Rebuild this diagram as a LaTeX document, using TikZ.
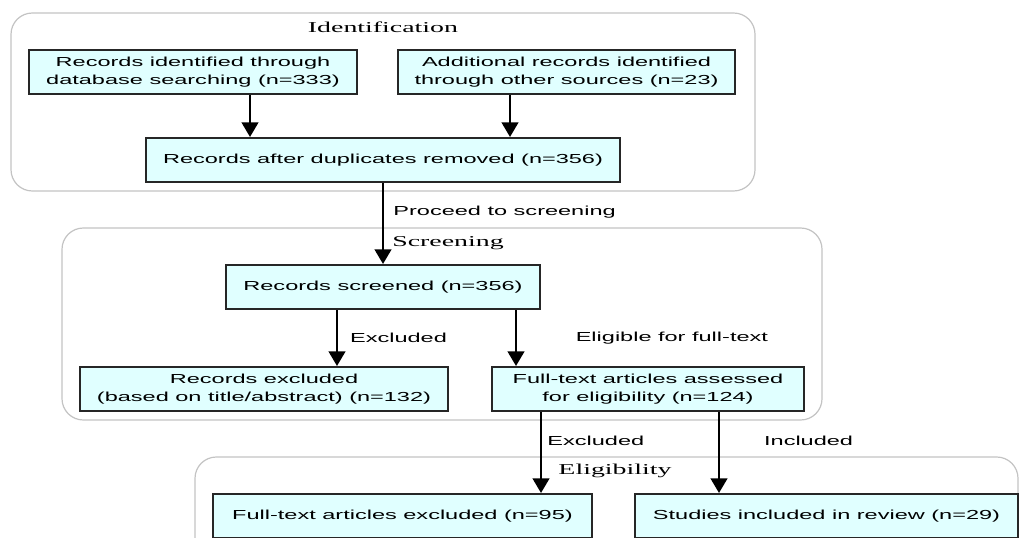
\documentclass[tikz,border=0pt]{standalone}
\usepackage{fontspec}
\newfontfamily\boxfont{Liberation Sans}[FakeStretch=1.8]
\newfontfamily\titlefont{Liberation Serif}[FakeStretch=1.85]
\usepackage{tikz}
\usetikzlibrary{arrows.meta}
\definecolor{boxcyan}{RGB}{224,255,255}
\definecolor{panelgray}{RGB}{195,195,195}
\tikzset{>={Triangle[length=11pt,width=12.5pt]}}
\tikzset{%
    box/.style={draw=black!85, line width=1.5pt, fill=boxcyan, align=center,
        inner sep=0pt, minimum height=33pt, font=\boxfont\fontsize{9.8}{13.9}\selectfont},
    boxw/.style={minimum width=#1*0.75pt},
    panel/.style={draw=panelgray, line width=0.9pt, rounded corners=16pt},
    paneltitle/.style={font=\titlefont\fontsize{11.3}{13}\selectfont, inner sep=0pt},
    arr/.style={->, line width=1.7pt},
    lbl/.style={font=\boxfont\fontsize{9.8}{13.9}\selectfont, inner sep=0pt}
}
\begin{document}
\begin{tikzpicture}[x=0.75pt,y=-0.75pt]
\useasboundingbox (0,0) rectangle (1023,538);
\clip (0,0) rectangle (1023,538);

% phases
\draw[panel] (11,13) rectangle (755,191);
\draw[panel] (62,228) rectangle (822,420);
\draw[panel] (195,457) rectangle (1018,580);

\node[paneltitle] (tIdent) at (383,27) {Identification};
\node[paneltitle] (tScreen) at (448,243) {Screening};
\node[paneltitle] (tElig) at (615,471) {Eligibility};

% boxes
\node[box, boxw=328] (idA) at (193,72) {Records identified through\\database searching (n=333)};
\node[box, boxw=337] (idB) at (566.5,72) {Additional records identified\\through other sources (n=23)};
\node[box, boxw=474] (dup) at (383,160) {Records after duplicates removed (n=356)};
\node[box, boxw=314] (screen) at (383,287) {Records screened (n=356)};
\node[box, boxw=368] (exclA) at (264,389) {Records excluded\\(based on title/abstract) (n=132)};
\node[box, boxw=312] (full) at (648,389) {Full-text articles assessed\\for eligibility (n=124)};
\node[box, boxw=379] (exclB) at (402.5,516) {Full-text articles excluded (n=95)};
\node[box, boxw=383] (incl) at (826.5,516) {Studies included in review (n=29)};

% arrows
\draw[arr] (250,0 |- idA.south) -- (250,0 |- dup.north);
\draw[arr] (510,0 |- idB.south) -- (510,0 |- dup.north);
\draw[arr] (dup.south) -- (screen.north) node[lbl, pos=0.36, right=7pt] {Proceed to screening};
\draw[arr] (337,0 |- screen.south) -- (337,0 |- exclA.north) node[lbl, midway, right=9pt] {Excluded};
\draw[arr] (516,0 |- screen.south) -- (516,0 |- full.north) node[lbl, midway, right=44pt] {Eligible for full-text};
\draw[arr] (541,0 |- full.south) -- (541,0 |- exclB.north) node[lbl, pos=0.35, right=4pt] {Excluded};
\draw[arr] (719,0 |- full.south) -- (719,0 |- incl.north) node[lbl, pos=0.35, right=33pt] {Included};
\end{tikzpicture}
\end{document}
